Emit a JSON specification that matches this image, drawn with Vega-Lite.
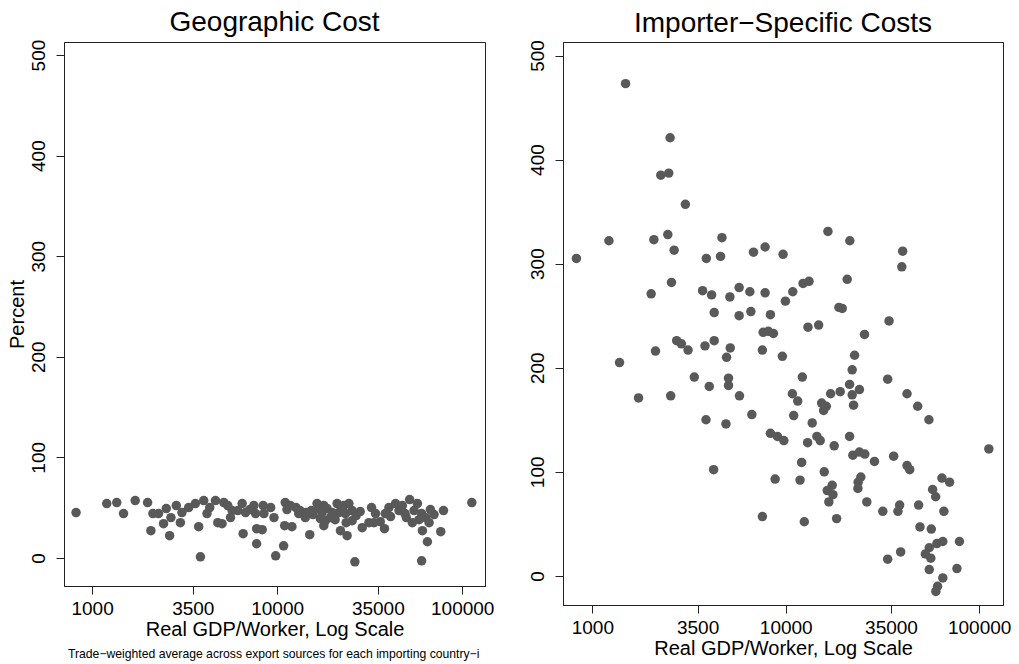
{
  "$schema": "https://vega.github.io/schema/vega-lite/v6.json",
  "background": "white",
  "padding": {"left": 6, "top": 8, "right": 5, "bottom": 5},
  "datasets": {
    "geo": [
      {"gdp": 819, "pct": 45}, {"gdp": 1200, "pct": 54}, {"gdp": 1359, "pct": 55}, {"gdp": 1479, "pct": 44},
      {"gdp": 1710, "pct": 57}, {"gdp": 1995, "pct": 55}, {"gdp": 2131, "pct": 44}, {"gdp": 2286, "pct": 44},
      {"gdp": 2517, "pct": 49}, {"gdp": 2433, "pct": 34}, {"gdp": 2078, "pct": 27}, {"gdp": 2624, "pct": 22},
      {"gdp": 2667, "pct": 40}, {"gdp": 2999, "pct": 35}, {"gdp": 2851, "pct": 52}, {"gdp": 3059, "pct": 45},
      {"gdp": 3325, "pct": 50}, {"gdp": 3615, "pct": 54}, {"gdp": 3768, "pct": 31}, {"gdp": 3849, "pct": 1},
      {"gdp": 4011, "pct": 57}, {"gdp": 4178, "pct": 44}, {"gdp": 4642, "pct": 57}, {"gdp": 5150, "pct": 55},
      {"gdp": 4778, "pct": 35}, {"gdp": 5038, "pct": 34}, {"gdp": 5710, "pct": 47}, {"gdp": 5598, "pct": 40},
      {"gdp": 6470, "pct": 54}, {"gdp": 6749, "pct": 45}, {"gdp": 6550, "pct": 24}, {"gdp": 7745, "pct": 29},
      {"gdp": 8300, "pct": 28}, {"gdp": 7745, "pct": 14}, {"gdp": 7486, "pct": 52}, {"gdp": 7646, "pct": 44},
      {"gdp": 8407, "pct": 52}, {"gdp": 8482, "pct": 44}, {"gdp": 9226, "pct": 50}, {"gdp": 9612, "pct": 40},
      {"gdp": 9820, "pct": 2}, {"gdp": 10840, "pct": 12}, {"gdp": 11060, "pct": 55}, {"gdp": 11780, "pct": 52},
      {"gdp": 10980, "pct": 32}, {"gdp": 12020, "pct": 31}, {"gdp": 13080, "pct": 44}, {"gdp": 14200, "pct": 40},
      {"gdp": 15000, "pct": 23}, {"gdp": 15300, "pct": 47}, {"gdp": 16430, "pct": 54}, {"gdp": 17870, "pct": 52},
      {"gdp": 18620, "pct": 49}, {"gdp": 17500, "pct": 45}, {"gdp": 17130, "pct": 39}, {"gdp": 18230, "pct": 37},
      {"gdp": 19410, "pct": 40}, {"gdp": 17870, "pct": 32}, {"gdp": 21090, "pct": 54}, {"gdp": 22930, "pct": 52},
      {"gdp": 24420, "pct": 54}, {"gdp": 21550, "pct": 45}, {"gdp": 23390, "pct": 44}, {"gdp": 25430, "pct": 47},
      {"gdp": 21980, "pct": 27}, {"gdp": 23880, "pct": 22}, {"gdp": 23590, "pct": 35}, {"gdp": 25430, "pct": 37},
      {"gdp": 28820, "pct": 30}, {"gdp": 26300, "pct": -4}, {"gdp": 32360, "pct": 50}, {"gdp": 34020, "pct": 44},
      {"gdp": 31330, "pct": 35}, {"gdp": 33340, "pct": 35}, {"gdp": 38020, "pct": 29}, {"gdp": 40180, "pct": 50},
      {"gdp": 43650, "pct": 54}, {"gdp": 45550, "pct": 47}, {"gdp": 41020, "pct": 41}, {"gdp": 49090, "pct": 44},
      {"gdp": 52000, "pct": 58}, {"gdp": 57270, "pct": 54}, {"gdp": 54950, "pct": 47}, {"gdp": 60360, "pct": 44},
      {"gdp": 58420, "pct": 38}, {"gdp": 53770, "pct": 35}, {"gdp": 63480, "pct": 40}, {"gdp": 66230, "pct": 35},
      {"gdp": 70470, "pct": 43}, {"gdp": 60950, "pct": 27}, {"gdp": 64860, "pct": 16}, {"gdp": 60360, "pct": -3},
      {"gdp": 76560, "pct": 26}, {"gdp": 79230, "pct": 47}, {"gdp": 112700, "pct": 55},
      {"gdp": 11300, "pct": 48}, {"gdp": 12640, "pct": 50}, {"gdp": 13290, "pct": 47}, {"gdp": 14330, "pct": 45},
      {"gdp": 15630, "pct": 43}, {"gdp": 16640, "pct": 49}, {"gdp": 19820, "pct": 45}, {"gdp": 20570, "pct": 38},
      {"gdp": 22450, "pct": 49}, {"gdp": 26740, "pct": 42}, {"gdp": 28100, "pct": 46}, {"gdp": 36070, "pct": 36},
      {"gdp": 38400, "pct": 44}, {"gdp": 47480, "pct": 52}, {"gdp": 49890, "pct": 40}, {"gdp": 67310, "pct": 48},
      {"gdp": 4323, "pct": 50}, {"gdp": 5411, "pct": 52}, {"gdp": 6133, "pct": 47}, {"gdp": 7121, "pct": 48}
    ],
    "imp": [
      {"gdp": 827, "pct": 305}, {"gdp": 1218, "pct": 322}, {"gdp": 1485, "pct": 473}, {"gdp": 2523, "pct": 421},
      {"gdp": 2259, "pct": 385}, {"gdp": 2483, "pct": 387}, {"gdp": 3027, "pct": 357}, {"gdp": 2080, "pct": 323},
      {"gdp": 2455, "pct": 328}, {"gdp": 2647, "pct": 313}, {"gdp": 2014, "pct": 271}, {"gdp": 2565, "pct": 282},
      {"gdp": 3883, "pct": 305}, {"gdp": 4677, "pct": 325}, {"gdp": 4600, "pct": 307}, {"gdp": 3715, "pct": 274},
      {"gdp": 4136, "pct": 270}, {"gdp": 4266, "pct": 253}, {"gdp": 5140, "pct": 268}, {"gdp": 5740, "pct": 277},
      {"gdp": 6522, "pct": 273}, {"gdp": 5740, "pct": 250}, {"gdp": 6600, "pct": 254}, {"gdp": 6810, "pct": 311},
      {"gdp": 7820, "pct": 316}, {"gdp": 7820, "pct": 272}, {"gdp": 8330, "pct": 251}, {"gdp": 9685, "pct": 309},
      {"gdp": 9955, "pct": 264}, {"gdp": 10870, "pct": 273}, {"gdp": 12280, "pct": 281}, {"gdp": 13190, "pct": 283},
      {"gdp": 16520, "pct": 331}, {"gdp": 21440, "pct": 322}, {"gdp": 20780, "pct": 285}, {"gdp": 18830, "pct": 258},
      {"gdp": 19590, "pct": 257}, {"gdp": 40230, "pct": 312}, {"gdp": 39810, "pct": 297}, {"gdp": 34200, "pct": 245},
      {"gdp": 25530, "pct": 232}, {"gdp": 13030, "pct": 239}, {"gdp": 14790, "pct": 241}, {"gdp": 7640, "pct": 234},
      {"gdp": 8130, "pct": 235}, {"gdp": 8630, "pct": 233},
      {"gdp": 2729, "pct": 226}, {"gdp": 2886, "pct": 223}, {"gdp": 3125, "pct": 217}, {"gdp": 4266, "pct": 226},
      {"gdp": 3823, "pct": 221}, {"gdp": 5163, "pct": 219}, {"gdp": 4943, "pct": 210}, {"gdp": 2120, "pct": 216},
      {"gdp": 1382, "pct": 205}, {"gdp": 1733, "pct": 171}, {"gdp": 2541, "pct": 173}, {"gdp": 3365, "pct": 191},
      {"gdp": 4023, "pct": 182}, {"gdp": 5058, "pct": 190}, {"gdp": 5058, "pct": 183}, {"gdp": 5765, "pct": 173},
      {"gdp": 3869, "pct": 150}, {"gdp": 4906, "pct": 146}, {"gdp": 6678, "pct": 155}, {"gdp": 7570, "pct": 217},
      {"gdp": 9605, "pct": 211}, {"gdp": 4236, "pct": 102}, {"gdp": 8330, "pct": 137}, {"gdp": 9054, "pct": 134},
      {"gdp": 9775, "pct": 130}, {"gdp": 8810, "pct": 93}, {"gdp": 7570, "pct": 57}, {"gdp": 12180, "pct": 191},
      {"gdp": 10820, "pct": 175}, {"gdp": 11530, "pct": 168}, {"gdp": 10990, "pct": 154}, {"gdp": 13700, "pct": 147},
      {"gdp": 12970, "pct": 128}, {"gdp": 14490, "pct": 134}, {"gdp": 15070, "pct": 130}, {"gdp": 12080, "pct": 109},
      {"gdp": 11850, "pct": 92}, {"gdp": 12470, "pct": 52}, {"gdp": 15330, "pct": 166}, {"gdp": 16200, "pct": 163},
      {"gdp": 15700, "pct": 159}, {"gdp": 17060, "pct": 175}, {"gdp": 19120, "pct": 177}, {"gdp": 21380, "pct": 184},
      {"gdp": 22050, "pct": 174}, {"gdp": 24040, "pct": 179}, {"gdp": 22410, "pct": 164}, {"gdp": 22050, "pct": 198},
      {"gdp": 22690, "pct": 212}, {"gdp": 17800, "pct": 125}, {"gdp": 15810, "pct": 100}, {"gdp": 17380, "pct": 87},
      {"gdp": 16390, "pct": 82}, {"gdp": 17540, "pct": 78}, {"gdp": 16700, "pct": 71}, {"gdp": 18320, "pct": 55},
      {"gdp": 21380, "pct": 134}, {"gdp": 22230, "pct": 116}, {"gdp": 24040, "pct": 119}, {"gdp": 25630, "pct": 117},
      {"gdp": 28750, "pct": 110}, {"gdp": 24440, "pct": 95}, {"gdp": 23670, "pct": 90}, {"gdp": 23600, "pct": 84},
      {"gdp": 26240, "pct": 71}, {"gdp": 31740, "pct": 62}, {"gdp": 38020, "pct": 62}, {"gdp": 38800, "pct": 68},
      {"gdp": 33650, "pct": 189}, {"gdp": 36130, "pct": 115}, {"gdp": 42360, "pct": 175}, {"gdp": 48080, "pct": 163},
      {"gdp": 54980, "pct": 150}, {"gdp": 42360, "pct": 106}, {"gdp": 43740, "pct": 102}, {"gdp": 48630, "pct": 68},
      {"gdp": 49420, "pct": 47}, {"gdp": 33650, "pct": 16}, {"gdp": 39270, "pct": 23}, {"gdp": 56570, "pct": 45},
      {"gdp": 57440, "pct": 83}, {"gdp": 59560, "pct": 76}, {"gdp": 64200, "pct": 94}, {"gdp": 70300, "pct": 90},
      {"gdp": 65700, "pct": 62}, {"gdp": 79070, "pct": 33}, {"gdp": 64860, "pct": 33}, {"gdp": 60460, "pct": 31},
      {"gdp": 55200, "pct": 27}, {"gdp": 52680, "pct": 21}, {"gdp": 56230, "pct": 17}, {"gdp": 55200, "pct": 6},
      {"gdp": 76740, "pct": 7}, {"gdp": 64860, "pct": -2}, {"gdp": 60940, "pct": -10}, {"gdp": 59710, "pct": -15},
      {"gdp": 112200, "pct": 122}
    ]
  },
  "title": {
    "text": "Trade−weighted average across export sources for each importing country−i",
    "orient": "bottom",
    "anchor": "start",
    "frame": "group",
    "dx": 4,
    "dy": -11,
    "fontSize": 12.2,
    "fontWeight": "normal",
    "color": "black",
    "offset": 0
  },
  "spacing": 32,
  "hconcat": [
    {
      "title": {"text": "Geographic Cost"},
      "width": 421,
      "height": 544,
      "data": {"name": "geo"},
      "mark": {"type": "circle", "size": 90, "color": "#595959", "opacity": 1},
      "encoding": {
        "x": {
          "field": "gdp",
          "type": "quantitative",
          "scale": {"type": "log", "domain": [705, 132800], "nice": false},
          "axis": {"values": [1000, 3500, 10000, 35000, 100000], "format": "d", "title": "Real GDP/Worker, Log Scale"}
        },
        "y": {
          "field": "pct",
          "type": "quantitative",
          "scale": {"domain": [-28, 513], "nice": false, "zero": false},
          "axis": {"values": [0, 100, 200, 300, 400, 500], "title": "Percent"}
        }
      }
    },
    {
      "title": {"text": "Importer−Specific Costs"},
      "width": 440,
      "height": 563,
      "data": {"name": "imp"},
      "mark": {"type": "circle", "size": 90, "color": "#595959", "opacity": 1},
      "encoding": {
        "x": {
          "field": "gdp",
          "type": "quantitative",
          "scale": {"type": "log", "domain": [705, 132800], "nice": false},
          "axis": {"values": [1000, 3500, 10000, 35000, 100000], "format": "d", "title": "Real GDP/Worker, Log Scale"}
        },
        "y": {
          "field": "pct",
          "type": "quantitative",
          "scale": {"domain": [-28, 513], "nice": false, "zero": false},
          "axis": {"values": [0, 100, 200, 300, 400, 500], "title": null}
        }
      }
    }
  ],
  "config": {
    "font": "Liberation Sans",
    "view": {"stroke": "#222222", "strokeWidth": 1},
    "axis": {
      "domainColor": "#222222",
      "tickColor": "#222222",
      "labelColor": "black",
      "titleColor": "black",
      "labelFontSize": 19,
      "titleFontSize": 20,
      "titleFontWeight": "normal",
      "tickSize": 8,
      "grid": false,
      "labelOverlap": false,
      "labelFlush": false
    },
    "axisY": {"labelAngle": -90, "labelPadding": 8, "titlePadding": 2},
    "axisX": {"labelPadding": 5, "titlePadding": 1},
    "title": {"fontSize": 28, "fontWeight": "normal", "anchor": "middle", "frame": "group", "color": "black", "offset": 2}
  }
}
